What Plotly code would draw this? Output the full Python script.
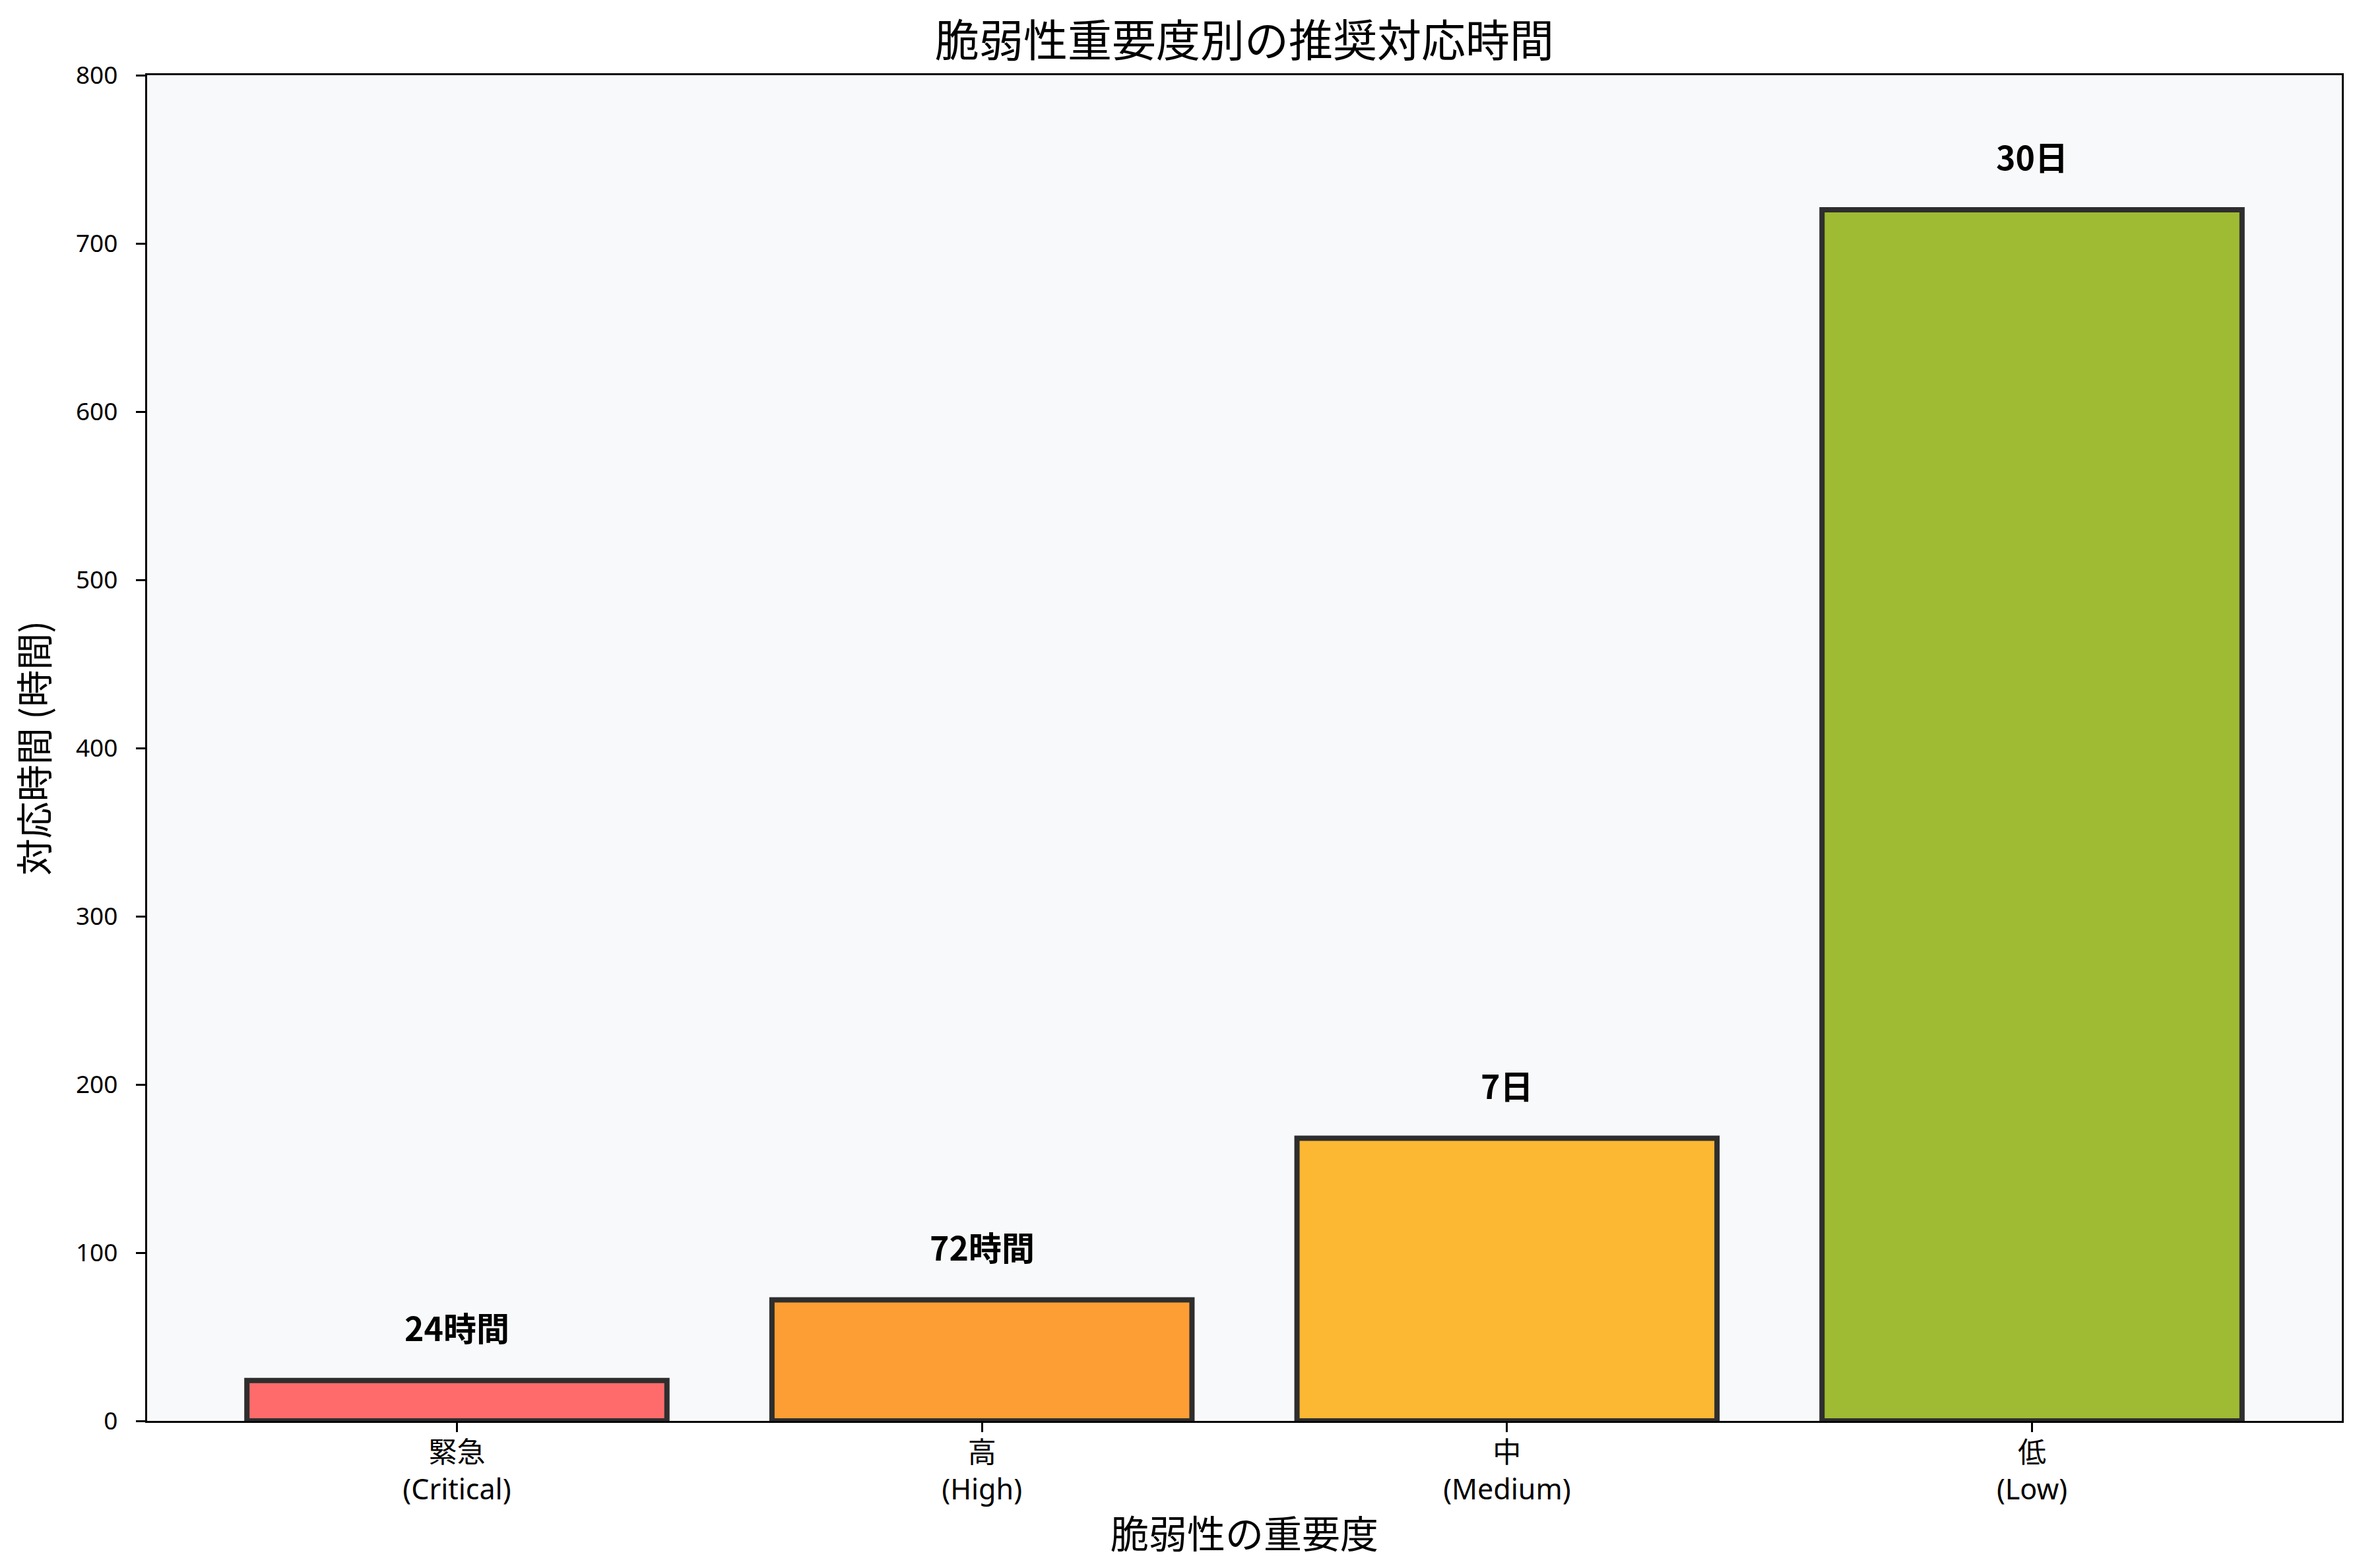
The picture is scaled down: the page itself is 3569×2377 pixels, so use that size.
import plotly.graph_objects as go

# ---- data ----
categories = ["緊急<br>(Critical)", "高<br>(High)", "中<br>(Medium)", "低<br>(Low)"]
hours = [24, 72, 168, 720]
value_labels = ["24時間", "72時間", "7日", "30日"]
bar_colors = ["#FF6B6B", "#FD9E34", "#FDB833", "#9FBB33"]
y_ticks = [0, 100, 200, 300, 400, 500, 600, 700, 800]

title_text = "脆弱性重要度別の推奨対応時間"
x_title = "脆弱性の重要度"
y_title = "対応時間 (時間)"

FONT = "Noto Sans CJK JP, Noto Sans, sans-serif"
TICKFONT = "Noto Sans, Noto Sans CJK JP, sans-serif"
W, H = 3569, 2377

fig = go.Figure()
fig.add_trace(go.Bar(
    x=list(range(len(categories))),
    y=hours,
    marker=dict(color=bar_colors, line=dict(color="#2E2E2E", width=8)),
    width=0.8,
    showlegend=False,
    hoverinfo="skip",
))

label_offset = 32
for i, (v, t) in enumerate(zip(hours, value_labels)):
    fig.add_annotation(
        x=i, y=v + label_offset, xref="x", yref="y",
        text=f"<b>{t}</b>", showarrow=False,
        font=dict(family=FONT, size=50, color="black"),
        xanchor="center", yanchor="middle",
    )

fig.update_layout(
    width=W, height=H,
    paper_bgcolor="white",
    plot_bgcolor="#F8F9FA",
    margin=dict(l=215, r=28, t=106, b=231, pad=0),
    font=dict(family=FONT, color="black"),
    title=dict(
        text=title_text, x=(215 + 3541) / 2 / W, xanchor="center",
        xref="container",
        y=1 - 55 / H, yanchor="middle",
        font=dict(family=FONT, size=67, color="black"),
    ),
    bargap=0.2,
)

fig.update_xaxes(
    range=[-0.59, 3.59],
    tickmode="array",
    tickvals=list(range(len(categories))),
    ticktext=categories,
    tickfont=dict(family=TICKFONT, size=43, color="black"),
    ticks="outside", ticklen=14, tickwidth=3.3, tickcolor="black",
    ticklabelstandoff=-6,
    showline=True, linecolor="black", linewidth=3.3, mirror=True,
    showgrid=False, zeroline=False,
    title=dict(text=x_title, font=dict(family=FONT, size=58, color="black"), standoff=22),
)

fig.update_yaxes(
    range=[0, 800],
    tickmode="array",
    tickvals=y_ticks,
    ticktext=[str(t) for t in y_ticks],
    tickfont=dict(family=TICKFONT, size=37, color="black"),
    ticks="outside", ticklen=14, tickwidth=3.3, tickcolor="black",
    ticklabelstandoff=20,
    showline=True, linecolor="black", linewidth=3.3, mirror=True,
    showgrid=False, zeroline=False,
    title=dict(text=y_title, font=dict(family=FONT, size=56, color="black"), standoff=30),
)

fig.write_html("out.html")
